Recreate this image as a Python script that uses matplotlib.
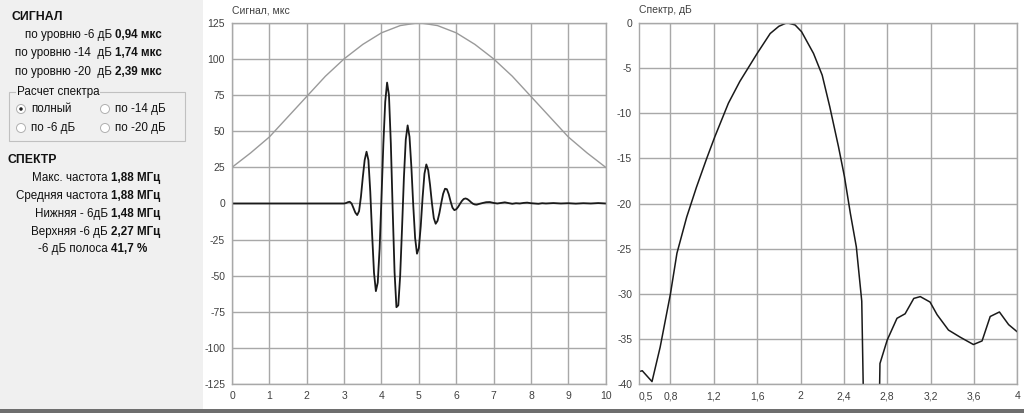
import numpy as np
import matplotlib
matplotlib.use("Agg")
import matplotlib.pyplot as plt
from matplotlib.patches import Rectangle, Ellipse

plt.rcParams['font.family'] = ['Liberation Sans', 'DejaVu Sans']
plt.rcParams['axes.unicode_minus'] = False

# --- signal (time, mks) ---
sig_t = [0.0, 3.0, 3.05, 3.1, 3.15, 3.2, 3.25, 3.3, 3.35, 3.4, 3.45, 3.5, 3.55, 3.6,
         3.65, 3.7, 3.75, 3.8, 3.85, 3.9, 3.95, 4.0, 4.05, 4.1, 4.15, 4.2, 4.25,
         4.3, 4.35, 4.4, 4.45, 4.5, 4.55, 4.6, 4.65, 4.7, 4.75, 4.8, 4.85, 4.9,
         4.95, 5.0, 5.05, 5.1, 5.15, 5.2, 5.25, 5.3, 5.35, 5.4, 5.45, 5.5, 5.55,
         5.6, 5.65, 5.7, 5.75, 5.8, 5.85, 5.9, 5.95, 6.0, 6.05, 6.1, 6.15, 6.2,
         6.25, 6.3, 6.35, 6.4, 6.45, 6.5, 6.55, 6.6, 6.7, 6.8, 6.9, 7.0, 7.1,
         7.2, 7.3, 7.4, 7.5, 7.6, 7.7, 7.8, 7.9, 8.0, 8.1, 8.2, 8.3, 8.4, 8.6,
         8.8, 9.0, 9.2, 9.4, 9.6, 9.8, 10.0]
sig_v = [0.0, 0.0, 0.3, 0.9, 1.2, 0.0, -3.1, -6.3, -8.0, -5.3, 4.6, 18.1, 30.0, 35.8,
         30.0, 8.2, -21.6, -47.9, -60.6, -54.7, -31.1, 3.9, 41.0, 70.2, 83.6, 75.0, 41.7,
         -4.5, -47.5, -71.7, -70.4, -49.9, -17.2, 17.8, 44.2, 54.0, 46.1, 25.3, -1.2, -23.8,
         -34.7, -30.8, -15.9, 4.0, 20.6, 27.0, 23.1, 12.8, 0.2, -10.1, -14.0, -12.0, -6.6,
         0.4, 6.7, 10.2, 9.9, 6.4, 1.4, -2.9, -4.6, -4.0, -2.4, -0.3, 1.7, 3.1,
         3.5, 3.0, 2.0, 0.8, -0.2, -0.7, -0.8, -0.4, 0.3, 0.9, 1.0, 0.4, 0.0,
         0.4, 0.8, 0.3, -0.2, 0.2, 0.0, 0.4, 0.6, 0.2, 0.0, -0.2, 0.2, 0.0, 0.3,
         0.0, 0.2, -0.1, 0.2, 0.0, 0.3, 0.0]

# --- window (gray) ---
win_t = [0, 0.5, 1, 1.5, 2, 2.5, 3, 3.5, 4, 4.5, 5, 5.5, 6, 6.5, 7, 7.5, 8, 8.5, 9, 9.5, 10]
win_v = [25, 35, 46, 60, 74, 88, 100, 110, 118, 123, 125, 123, 118, 110, 100, 88, 74, 60, 46, 35, 25]

# --- spectrum (MHz, dB) ---
spec_f = [0.51, 0.54, 0.63, 0.705, 0.80, 0.86, 0.95, 1.04, 1.135, 1.21, 1.335, 1.44,
          1.60, 1.72, 1.80, 1.875, 1.95, 2.01, 2.12, 2.20, 2.27, 2.35, 2.405, 2.46,
          2.515, 2.565, 2.60, 2.71, 2.733, 2.80, 2.89, 2.965, 3.045, 3.105, 3.195,
          3.26, 3.365, 3.475, 3.595, 3.675, 3.75, 3.835, 3.92, 4.0]
spec_db = [-38.6, -38.5, -39.7, -35.9, -30.0, -25.5, -21.5, -18.2, -15.0, -12.6, -8.9, -6.5,
           -3.4, -1.2, -0.4, 0.0, -0.25, -1.0, -3.4, -5.8, -9.3, -13.7, -17.0, -21.1,
           -24.8, -30.8, -55.0, -55.0, -37.7, -35.1, -32.7, -32.2, -30.5, -30.3, -30.9,
           -32.3, -34.0, -34.8, -35.6, -35.2, -32.5, -32.0, -33.4, -34.2]

sig_ticks_x = list(range(0, 11))
sig_ticks_y = [125, 100, 75, 50, 25, 0, -25, -50, -75, -100, -125]
spec_ticks_x = [0.8, 1.2, 1.6, 2.0, 2.4, 2.8, 3.2, 3.6, 4.0]
spec_labels_x = ['0,8', '1,2', '1,6', '2', '2,4', '2,8', '3,2', '3,6', '4']
spec_ticks_y = [0, -5, -10, -15, -20, -25, -30, -35, -40]

W, H = 1024, 413
fig = plt.figure(figsize=(W / 100, H / 100), dpi=100)
fig.patch.set_facecolor('white')

def fx(px):
    return px / W

def fy(py):
    return 1 - py / H

# left gray panel + bottom strip
fig.patches.append(Rectangle((0, 0), fx(203), 1, transform=fig.transFigure,
                             facecolor='#f0f0f0', edgecolor='none', zorder=0))
fig.patches.append(Rectangle((0, 0), 1, 4 / H, transform=fig.transFigure,
                             facecolor='#6e6e6e', edgecolor='none', zorder=0))

grid_c = '#a8a8a8'
tick_c = '#404040'

def style(ax):
    ax.set_facecolor('white')
    for s in ax.spines.values():
        s.set_color(grid_c)
        s.set_linewidth(1)
    ax.tick_params(length=0, labelsize=7.5, colors=tick_c, pad=5)
    ax.grid(True, which='major', color=grid_c, linewidth=1)
    ax.set_axisbelow(True)

# signal axes
ax1 = fig.add_axes([fx(232), fy(384.3), (605.7 - 232) / W, (384.3 - 22.7) / H])
style(ax1)
ax1.plot(win_t, win_v, color='#9a9a9a', linewidth=1)
ax1.plot(sig_t, sig_v, color='#1a1a1a', linewidth=1.3)
ax1.set_xlim(0, 10)
ax1.set_ylim(-125, 125)
ax1.set_xticks(sig_ticks_x)
ax1.set_yticks(sig_ticks_y)
ax1.text(0, 1.02, 'Сигнал, мкс', transform=ax1.transAxes, fontsize=7.5,
         color=tick_c, ha='left', va='bottom')

# spectrum axes
ax2 = fig.add_axes([fx(639), fy(384.3), (1017.3 - 639) / W, (384.3 - 22.7) / H])
style(ax2)
ax2.plot(spec_f, spec_db, color='#1a1a1a', linewidth=1.1)
ax2.set_xlim(0.51, 4.0)
ax2.set_ylim(-40, 0)
ax2.set_xticks(spec_ticks_x)
ax2.set_xticklabels(spec_labels_x)
ax2.set_xticks([0.575], minor=True)
ax2.set_xticklabels(['0,5'], minor=True)
ax2.tick_params(which='minor', length=0, labelsize=7.5, colors=tick_c, pad=5)
ax2.set_yticks(spec_ticks_y)
ax2.text(0, 1.02, 'Спектр, дБ', transform=ax2.transAxes, fontsize=7.5,
         color=tick_c, ha='left', va='bottom')

# --- left info panel ---
txt_c = '#111111'
fs = 8.4
fig.text(fx(12), fy(17), 'СИГНАЛ', fontsize=8.8, fontweight='bold', color=txt_c, va='center')
sig_rows = [('по уровню -6 дБ', '0,94 мкс', 35), ('по уровню -14  дБ', '1,74 мкс', 53),
            ('по уровню -20  дБ', '2,39 мкс', 72)]
for lab, val, y in sig_rows:
    fig.text(fx(112), fy(y), lab, fontsize=fs, color=txt_c, ha='right', va='center')
    fig.text(fx(115), fy(y), val, fontsize=fs, fontweight='bold', color=txt_c, va='center')

# group box
fig.patches.append(Rectangle((fx(9), fy(141)), fx(176), (141 - 92) / H, transform=fig.transFigure,
                             facecolor='none', edgecolor='#c0c0c0', linewidth=0.8))
fig.text(fx(17), fy(92), 'Расчет спектра', fontsize=fs, color=txt_c, va='center',
         bbox=dict(facecolor='#f0f0f0', edgecolor='none', pad=0.5))
radios = [('полный', 21, 109, True), ('по -14 дБ', 105, 109, False),
          ('по -6 дБ', 21, 128, False), ('по -20 дБ', 105, 128, False)]
for lab, x, y, sel in radios:
    fig.patches.append(Ellipse((fx(x), fy(y)), 9 / W, 9 / H, transform=fig.transFigure,
                               facecolor='white', edgecolor='#b0b0b0', linewidth=0.7))
    if sel:
        fig.patches.append(Ellipse((fx(x), fy(y)), 3.5 / W, 3.5 / H, transform=fig.transFigure,
                                   facecolor='#202020', edgecolor='none'))
    fig.text(fx(x + 10), fy(y), lab, fontsize=fs, color=txt_c, va='center')

fig.text(fx(8), fy(160), 'СПЕКТР', fontsize=8.8, fontweight='bold', color=txt_c, va='center')
spec_rows = [('Макс. частота', '1,88 МГц', 178), ('Средняя частота', '1,88 МГц', 196),
             ('Нижняя - 6дБ', '1,48 МГц', 214), ('Верхняя -6 дБ', '2,27 МГц', 232),
             ('-6 дБ полоса', '41,7 %', 249)]
for lab, val, y in spec_rows:
    fig.text(fx(108), fy(y), lab, fontsize=fs, color=txt_c, ha='right', va='center')
    fig.text(fx(111), fy(y), val, fontsize=fs, fontweight='bold', color=txt_c, va='center')

fig.savefig('out.png', dpi=100)
